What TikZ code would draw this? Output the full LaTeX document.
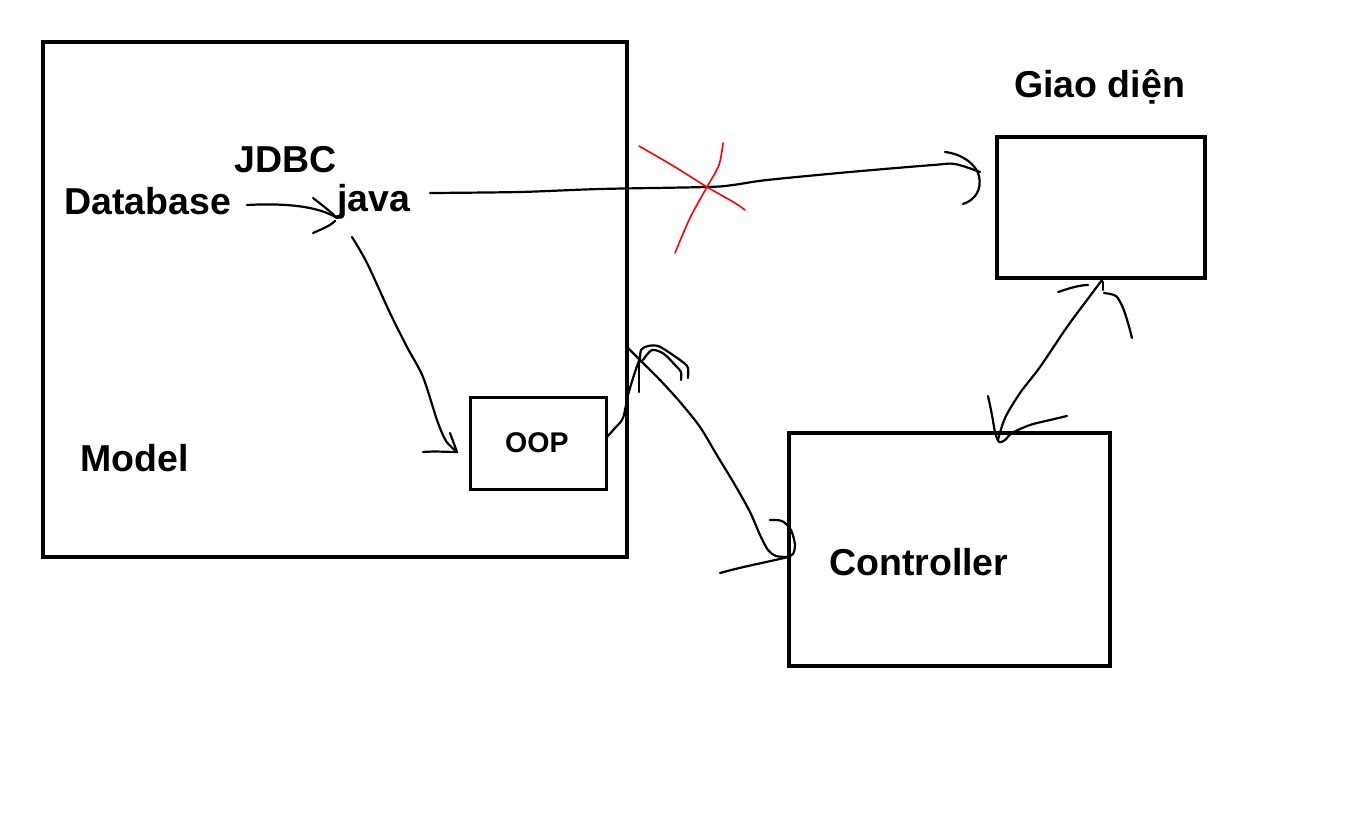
\documentclass[tikz,border=0pt]{standalone}
\usepackage{fontspec}
\setmainfont{Liberation Sans}
\begin{document}
\begin{tikzpicture}[x=1pt,y=-1pt,
  box/.style={draw=black,line width=4pt,inner sep=0pt,fill=none},
  smallbox/.style={draw=black,line width=3pt,inner sep=0pt},
  lbl/.style={inner sep=0pt,anchor=base west,font=\fontsize{37.5}{40}\selectfont\bfseries},
  slbl/.style={inner sep=0pt,anchor=base west,font=\fontsize{28.5}{30}\selectfont\bfseries},
  hand/.style={draw=black,line width=2.2pt,line cap=round,line join=round},
  cross/.style={draw=red,line width=1.6pt,line cap=round,line join=round}]
\useasboundingbox (0,0) rectangle (1347,837);
\fill[white] (0,0) rectangle (1347,837);
% boxes
\node[box,minimum width=584pt,minimum height=515pt] (model) at (335,299.5) {};
\node[smallbox,minimum width=136pt,minimum height=92pt] (oop) at (538,443) {};
\node[box,minimum width=208pt,minimum height=141pt] (gui) at (1101,207.5) {};
\node[box,minimum width=321pt,minimum height=233pt] (ctrl) at (949.5,549.5) {};
% labels
\node[lbl] (db) at (64,215) {Database};
\node[lbl] (jdbc) at (234,173) {JDBC};
\node[lbl] (java) at (337,212) {java};
\node[lbl] (modeltxt) at (80,471) {Model};
\node[slbl] (ooptxt) at (505,452) {OOP};
\node[lbl] (guitxt) at (1014,98) {Giao diện};
\node[lbl] (ctrltxt) at (829,575) {Controller};
% named free ends
\coordinate (dbOut) at (247,205);
\coordinate (javaIn) at (337,218);
\coordinate (javaDown) at (352,237);
\coordinate (oopIn) at (457,452);
\coordinate (javaRight) at (430,193);
\coordinate (guiIn) at (980,172);
\coordinate (oopOut) at (607,437);
\coordinate (modelTop) at (640,358);
\coordinate (ctrlIn) at (788,557);
\coordinate (guiOut) at (1102,280);
\coordinate (ctrlTop) at (998,440);
% Database -> java
\draw[hand] (dbOut) .. controls (285,203) and (318,206) .. (javaIn);
\draw[hand] (313,198) .. controls (322,205) and (330,211) .. (javaIn);
\draw[hand] (313,233) .. controls (322,229) and (330,226) .. (335,221);
% java -> OOP
\draw[hand] plot[smooth] coordinates {(javaDown) (367,263) (390,313) (407,347) (423,377) (437,420) (446,441) (oopIn)};
\draw[hand] (450,433) -- (oopIn);
\draw[hand] (423,452) .. controls (435,451) and (447,452) .. (oopIn);
% java -> Giao dien (crossed)
\draw[hand] plot[smooth] coordinates {(javaRight) (520,192) (600,189) (707,187) (733,185) (767,180) (850,172) (933,165) (955,164) (guiIn)};
\draw[hand] (945,152) .. controls (962,154) and (976,164) .. (979,176) .. controls (982,190) and (975,200) .. (963,204);
% red cross
\draw[cross] plot[smooth] coordinates {(639,146) (675,167) (707,187) (735,203) (745,210)};
\draw[cross] plot[smooth] coordinates {(723,143) (719,165) (707,187) (690,218) (675,253)};
% OOP <-> Controller
\draw[hand] plot[smooth] coordinates {(oopOut) (615,428) (623,418) (628,395) (635,372) (modelTop)};
\draw[hand] plot[smooth] coordinates {(628,348) (642,362) (660,380) (680,402) (700,427) (718,457) (735,485) (750,512) (760,535) (768,550) (776,556) (ctrlIn)};
\draw[hand] (639,392) -- (639,357);
\draw[hand] plot[smooth] coordinates {(640,362) (641,350) (648,346) (658,346) (670,353) (684,363) (688,368) (688,378)};
\draw[hand] plot[smooth] coordinates {(643,360) (652,350) (664,354) (676,366) (681,372) (681,380)};
\draw[hand] plot[smooth] coordinates {(770,520) (782,521) (791,530) (795,545) (793,554) (ctrlIn)};
\draw[hand] (720,573) .. controls (745,566) and (768,562) .. (ctrlIn);
% Giao dien <-> Controller
\draw[hand] plot[smooth] coordinates {(guiOut) (1087,300) (1067,327) (1040,367) (1020,393) (1005,418) (ctrlTop)};
\draw[hand] (1058,292) .. controls (1070,288) and (1080,285) .. (1088,285);
\draw[hand] (1103,282) -- (1103,290);
\draw[hand] plot[smooth] coordinates {(1104,293) (1116,296) (1123,308) (1128,323) (1132,338)};
\draw[hand] plot[smooth] coordinates {(988,396) (992,415) (995,432) (999,442) (1005,440) (1012,433) (1030,425) (1050,420) (1067,416)};
\end{tikzpicture}
\end{document}
